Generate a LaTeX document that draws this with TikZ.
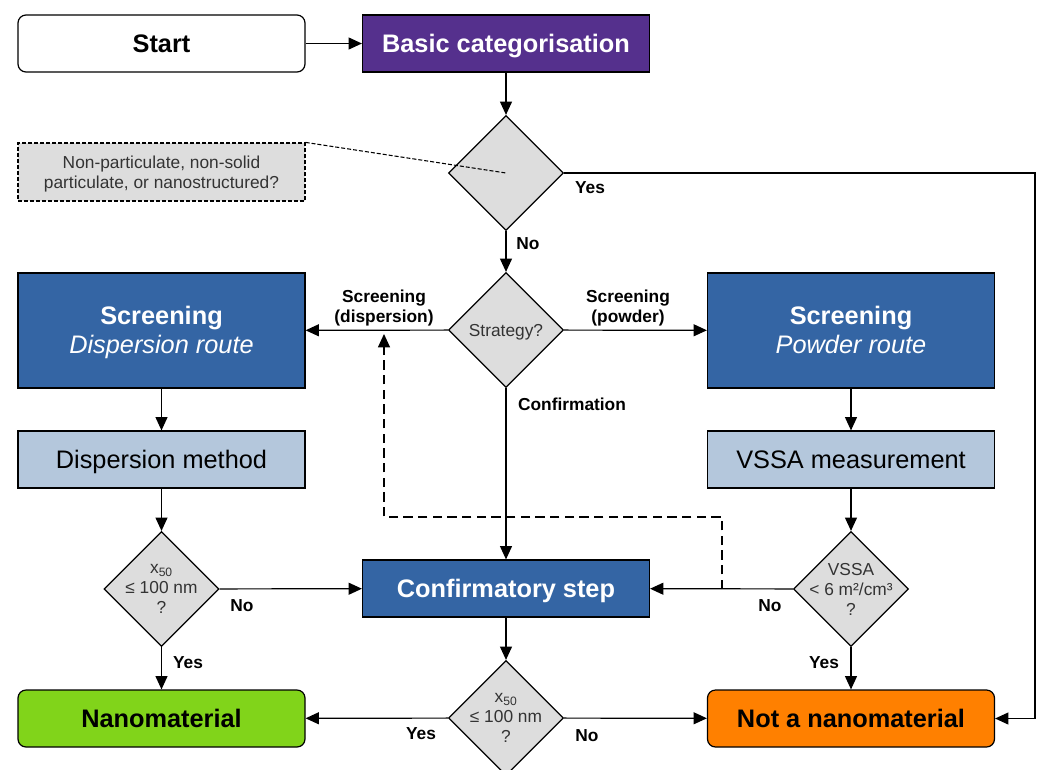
\documentclass[tikz,border=0pt]{standalone}
\usepackage{fontspec}
\setmainfont{Liberation Sans}
\usetikzlibrary{shapes.geometric,arrows.meta}
\definecolor{catpurple}{HTML}{55308D}
\definecolor{stepblue}{HTML}{3465A4}
\definecolor{methblue}{HTML}{B4C7DC}
\definecolor{qgray}{HTML}{DDDDDD}
\definecolor{nanogreen}{HTML}{81D41A}
\definecolor{notorange}{HTML}{FF8000}
\newcommand\boxstrut{\rule[-0.212em]{0pt}{1.117em}}

\begin{document}
\begin{tikzpicture}[x=0.75pt,y=-0.75pt,line width=0.9pt,
  >={Triangle[length=10pt,width=9pt]},
  box/.style={draw,minimum width=215.25pt,minimum height=42.75pt,inner sep=0pt,
    align=center,font=\fontsize{19}{22}\selectfont},
  tallbox/.style={box,minimum height=86.25pt,fill=stepblue,text=white},
  endbox/.style={box,rounded corners=6pt,font=\fontsize{19}{22}\selectfont\bfseries},
  decision/.style={draw,diamond,fill=qgray,inner sep=0pt,minimum width=86.25pt,minimum height=86.25pt},
  qtext/.style={align=center,text=black!80,font=\fontsize{13}{15}\selectfont},
  lbl/.style={align=center,font=\fontsize{13}{15}\selectfont\bfseries}]
  \useasboundingbox (0,0) rectangle (1040,769);

  \node[endbox] (start) at (161.5,43.5) {\boxstrut Start};
  \node[box,fill=catpurple,text=white,font=\fontsize{19}{22}\selectfont\bfseries] (basic) at (506,43.5) {\boxstrut Basic categorisation};
  \node[decision] (q1) at (506,173) {};
  \node[draw,fill=qgray,dash pattern=on 3pt off 1.5pt,minimum width=215.25pt,minimum height=43.5pt,
    qtext] (note) at (161.5,172) {\boxstrut Non-particulate, non-solid\\particulate, or nanostructured?\boxstrut};
  \coordinate (q1note) at (506,173);
  \coordinate (yescorner) at (1035,173);

  \node[decision] (strat) at (506,330) {};
  \node[qtext] (stratt) at (strat) {\boxstrut Strategy?};
  \node[tallbox] (scrd) at (161.5,330.5) {\boxstrut\textbf{Screening}\\\textit{Dispersion route}\boxstrut};
  \node[tallbox] (scrp) at (851,330.5) {\boxstrut\textbf{Screening}\\\textit{Powder route}\boxstrut};
  \node[box,fill=methblue] (dmeth) at (161.5,459.5) {\boxstrut Dispersion method};
  \node[box,fill=methblue] (vssa) at (851,459.5) {\boxstrut VSSA measurement};

  \node[decision] (q2) at (161.5,589) {};
  \node[qtext] (q2t) at (q2) {x\textsubscript{50}\\≤ 100 nm\\?};
  \node[box,fill=stepblue,text=white,font=\fontsize{19}{22}\selectfont\bfseries] (conf) at (506,588.5) {\boxstrut Confirmatory step};
  \node[decision] (q3) at (851,589) {};
  \node[qtext] (q3t) at (q3) {VSSA\\< 6 m²/cm³\\?};
  \coordinate (dback) at (722,589);
  \coordinate (dtip) at (384,334);

  \node[decision] (q4) at (506,718) {};
  \node[qtext] (q4t) at (q4) {x\textsubscript{50}\\≤ 100 nm\\?};
  \node[endbox,fill=nanogreen] (nano) at (161.5,718.5) {\boxstrut Nanomaterial};
  \node[endbox,fill=notorange] (notnano) at (851,718.5) {\boxstrut Not a nanomaterial};

  \draw[->] (start) -- (basic);
  \draw[->] (basic) -- (q1);
  \draw[dash pattern=on 3pt off 1.5pt,line width=0.8pt] (note.north east) -- (q1note);
  \draw[->] (q1.east) -- (yescorner) |- (notnano.east);
  \draw[->] (q1) -- (strat);
  \draw[->] (strat) -- (scrd);
  \draw[->] (strat) -- (scrp);
  \draw[->] (strat) -- (conf);
  \draw[->] (scrd) -- (dmeth);
  \draw[->] (scrp) -- (vssa);
  \draw[->] (dmeth) -- (q2);
  \draw[->] (vssa) -- (q3);
  \draw[->] (q2) -- (conf);
  \draw[->] (q3) -- (conf);
  \draw[->,dash pattern=on 7pt off 4pt] (dback) -- ++(0,-72) -| (dtip);
  \draw[->] (q2) -- (nano);
  \draw[->] (q3) -- (notnano);
  \draw[->] (conf) -- (q4);
  \draw[->] (q4) -- (nano);
  \draw[->] (q4) -- (notnano);

  \node[lbl] (l1) at (590,188) {Yes};
  \node[lbl] (l2) at (528,244) {No};
  \node[lbl] (l3) at (384,308) {Screening\\(dispersion)};
  \node[lbl] (l4) at (628,308) {Screening\\(powder)};
  \node[lbl] (l5) at (572,404) {Confirmation};
  \node[lbl] (l6) at (242,606) {No};
  \node[lbl] (l7) at (770,606) {No};
  \node[lbl] (l8) at (188,663) {Yes};
  \node[lbl] (l9) at (824,663) {Yes};
  \node[lbl] (l10) at (421,734) {Yes};
  \node[lbl] (l11) at (587,736) {No};
\end{tikzpicture}
\end{document}
